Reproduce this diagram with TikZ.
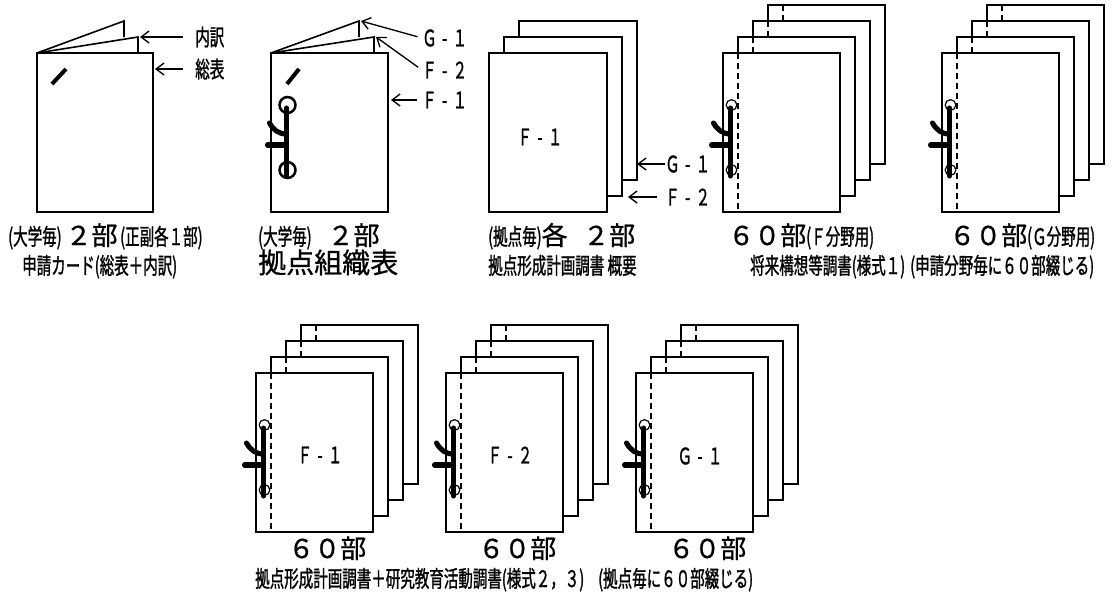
\documentclass[tikz,border=0pt]{standalone}
\usepackage{fontspec}
\usepackage{tikz}
\usetikzlibrary{arrows.meta,positioning,calc}
\newfontfamily\jpnarrow[FakeStretch=0.64,FakeBold=1.2]{Noto Sans CJK JP}
\newfontfamily\jpwide[FakeBold=0.8]{Noto Sans CJK JP}
\newcommand\nar{\jpnarrow\fontsize{17}{19}\selectfont}
\newcommand\wid{\jpwide\fontsize{19.5}{22}\selectfont}
\newcommand\midbar{\makebox[0.7em]{-}}

% binder clip: bar x, page top y, ring radius, ring width
\newcommand\binder[4]{%
  \draw[line width=#4] (#1+1,#2+52) circle (#3);
  \draw[line width=#4] (#1+1,#2+117) circle (#3);
  \draw[clipbar] (#1,#2+55) -- (#1,#2+123);
  \draw[clipbar] (#1-19,#2+92) -- (#1,#2+92);
  \draw[clipbar] (#1-17,#2+70) to[out=-60,in=180] (#1,#2+81);
}

\begin{document}
\begin{tikzpicture}[
  x=0.75pt, y=-0.75pt,
  sheet/.style={draw, fill=white, line width=1.3pt},
  seam/.style={line width=1pt, dash pattern=on 4.5pt off 3pt},
  clipbar/.style={line width=3.8pt, line cap=round},
  fold/.style={line width=1.2pt},
  slashmark/.style={line width=3pt},
  arr/.style={-{Straight Barb[length=6pt,width=9pt]}, line width=1pt},
  nar/.style={font=\nar, inner sep=0pt},
  wid/.style={font=\wid, inner sep=0pt},
  tagtext/.style={font=\nar, inner sep=0pt}
]
\useasboundingbox (0,0) rectangle (1119,594);

% application card (cover + breakdown)
\filldraw[sheet] (37,53) rectangle (153,212);
\draw[fold] (37,53) -- (124,21) -- (124,37);
\draw[fold] (37,53) -- (138,37) -- (138,53);
\draw[slashmark] (52,84) -- (66,69);
\coordinate (tip-nai) at (140,37);
\coordinate (tip-sou) at (155,69);
\node[tagtext, anchor=west] (lbl-nai) at (195,37) {内訳};
\node[tagtext, anchor=west] (lbl-sou) at (195,69) {総表};
\draw[arr, shorten <=9pt] (lbl-nai.west) -- (tip-nai);
\draw[arr, shorten <=9pt] (lbl-sou.west) -- (tip-sou);

% organisation chart
\filldraw[sheet] (271,53) rectangle (388,212);
\draw[fold] (271,53) -- (359,21) -- (359,37);
\draw[fold] (271,53) -- (374,37) -- (374,53);
\draw[slashmark] (287,84) -- (299,69);
\binder{286.5}{53}{6pt}{1.9pt}
\coordinate (tip-g1) at (361,21);
\coordinate (tip-f2) at (376,37);
\coordinate (tip-f1) at (391,100);
\node[tagtext, anchor=west] (lbl-g1) at (422,38) {Ｇ\midbar１};
\node[tagtext, anchor=west] (lbl-f2) at (422,70) {Ｆ\midbar２};
\node[tagtext, anchor=west] (lbl-f1) at (422,100) {Ｆ\midbar１};
\draw[arr, shorten <=3.5pt] (lbl-g1.west) -- (tip-g1);
\draw[arr, shorten <=3.5pt] (lbl-f2.west) -- (tip-f2);
\draw[arr, shorten <=3.5pt] (lbl-f1.west) -- (tip-f1);

% plan summary, three sheets
\foreach \k in {2,1,0}
  \filldraw[sheet] (489+15*\k,53-16*\k) rectangle ++(118,159);
\node[tagtext] (pg-f1) at (540,137) {Ｆ\midbar１};
\coordinate (tip-g1b) at (637,164);
\coordinate (tip-f2b) at (628,197);
\node[tagtext, anchor=west] (lbl-g1b) at (665,164) {Ｇ\midbar１};
\node[tagtext, anchor=west] (lbl-f2b) at (665,197) {Ｆ\midbar２};
\draw[arr] (lbl-g1b.west) -- (tip-g1b);
\draw[arr, shorten <=6pt] (lbl-f2b.west) -- (tip-f2b);

% bound stacks of 60
\foreach \sx/\sy in {723/53, 942/53, 256/373, 446/373, 636/373} {
  \foreach \k in {3,2,1,0} {
    \filldraw[sheet] (\sx+15*\k,\sy-16*\k) rectangle ++(117,159);
    \draw[seam] (\sx+15+15*\k,\sy-16*\k) -- ++(0,159);
  }
  \binder{\sx+7.5}{\sy}{4pt}{0.9pt}
}
\node[tagtext] (pg-b1) at (320,455) {Ｆ\midbar１};
\node[tagtext] (pg-b2) at (510,455) {Ｆ\midbar２};
\node[tagtext] (pg-b3) at (700,456) {Ｇ\midbar１};

% captions, top row
\node[nar, anchor=base west] (cnt1) at (8,245) {(大学毎)\hspace{3pt}{\wid ２部}\hspace{2pt}(正副各１部)};
\node[nar, anchor=base west] (name1) at (22,274) {申請カード(総表＋内訳)};
\node[nar, anchor=base west] (cnt2) at (258,245) {(大学毎)\hspace{12pt}{\wid ２部}};
\node[font=\jpwide\fontsize{21}{24}\selectfont, inner sep=0pt, anchor=base west] (name2) at (258,273) {拠点組織表};
\node[nar, anchor=base west] (cnt3) at (488,245) {(拠点毎){\wid 各\hspace{.6em}２部}};
\node[nar, anchor=base west] (name3) at (488,274) {拠点形成計画調書 概要};
\node[nar, anchor=base west] (cnt4) at (728,245) {{\wid ６０部}(Ｆ分野用)};
\node[nar, anchor=base west] (name4) at (750,274) {将来構想等調書(様式１)};
\node[nar, anchor=base west] (cnt5) at (949,245) {{\wid ６０部}(Ｇ分野用)};
\node[nar, anchor=base west] (name5) at (910,274) {(申請分野毎に６０部綴じる)};

% captions, bottom row
\node[wid, anchor=base west] (cnt6) at (288,558) {６０部};
\node[wid, anchor=base west] (cnt7) at (478,558) {６０部};
\node[wid, anchor=base west] (cnt8) at (668,558) {６０部};
\node[nar, anchor=base west] (name6) at (255,587) {拠点形成計画調書＋研究教育活動調書(様式２，３)};
\node[nar, anchor=base west] (name7) at (598,587) {(拠点毎に６０部綴じる)};

\end{tikzpicture}
\end{document}
